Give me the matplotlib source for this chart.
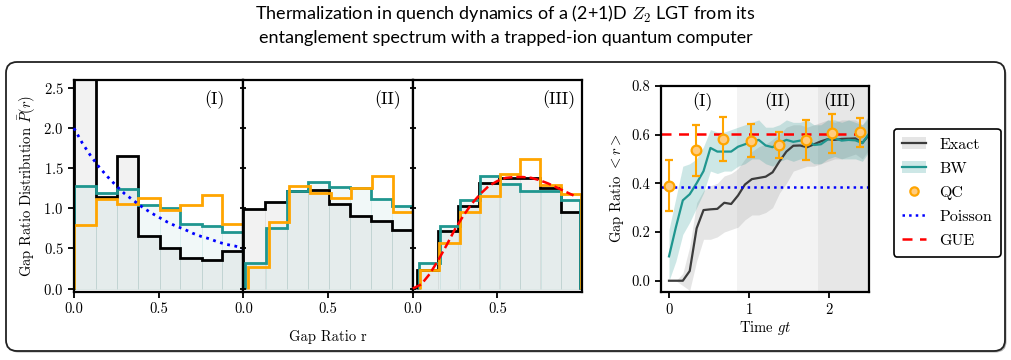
import numpy as np
import matplotlib
matplotlib.use('Agg')
import matplotlib.pyplot as plt
from matplotlib.patches import FancyBboxPatch, Patch
from matplotlib.lines import Line2D

plt.rcParams['font.family'] = 'serif'
plt.rcParams['font.serif'] = ['cmr10', 'DejaVu Serif']
plt.rcParams['mathtext.fontset'] = 'cm'
plt.rcParams['axes.formatter.use_mathtext'] = True
plt.rcParams['axes.linewidth'] = 1.6
plt.rcParams['axes.unicode_minus'] = False

TEAL = '#1f968f'
ORANGE = '#ffa500'

'''
    Histogram data: gap ratio distribution for the three regimes
'''

# regime (I)
exact_edges_1 = [0.0, 0.13, 0.253, 0.377, 0.506, 0.628, 0.753, 0.875, 1.0]
exact_vals_1 = [2.85, 1.14, 1.65, 0.65, 0.51, 0.38, 0.35, 0.47]
bw_edges_1 = [0.0, 0.13, 0.253, 0.377, 0.506, 0.628, 0.753, 0.875, 1.0]
bw_vals_1 = [1.28, 1.19, 1.24, 1.04, 1.00, 0.80, 0.78, 0.71]
qc_edges_1 = [0.0, 0.13, 0.253, 0.377, 0.506, 0.628, 0.753, 0.875, 1.0]
qc_vals_1 = [0.79, 1.11, 1.06, 1.13, 0.98, 1.04, 1.16, 0.80]

# regime (II)
exact_edges_2 = [0.0, 0.129, 0.257, 0.382, 0.507, 0.630, 0.754, 0.879, 1.0]
exact_vals_2 = [0.99, 1.08, 1.22, 1.23, 1.06, 0.90, 0.84, 0.73]
bw_edges_2 = [0.012, 0.133, 0.257, 0.382, 0.507, 0.630, 0.754, 0.879, 1.0]
bw_vals_2 = [0.32, 0.76, 1.21, 1.33, 1.27, 1.25, 1.11, 1.03]
qc_edges_2 = [0.03, 0.149, 0.271, 0.392, 0.515, 0.638, 0.760, 0.885, 1.0]
qc_vals_2 = [0.27, 0.83, 1.28, 1.19, 1.13, 1.25, 1.40, 0.96]

# regime (III)
exact_edges_3 = [0.026, 0.150, 0.266, 0.390, 0.512, 0.636, 0.754, 0.878, 0.99]
exact_vals_3 = [0.23, 0.72, 1.03, 1.32, 1.38, 1.38, 1.25, 0.96]
bw_edges_3 = [0.04, 0.160, 0.282, 0.400, 0.518, 0.636, 0.758, 0.878, 0.99]
bw_vals_3 = [0.32, 0.78, 1.10, 1.40, 1.30, 1.22, 1.21, 1.10]
qc_edges_3 = [0.045, 0.157, 0.278, 0.400, 0.514, 0.632, 0.754, 0.878, 0.996]
qc_vals_3 = [0.23, 0.57, 0.96, 1.15, 1.43, 1.61, 1.29, 1.18]

# reference curves
r_ref = [0.0, 0.05, 0.1, 0.15, 0.2, 0.25, 0.3, 0.35, 0.4, 0.45, 0.5,
         0.55, 0.6, 0.65, 0.7, 0.75, 0.8, 0.85, 0.9, 0.95, 1.0]
poisson_curve = [2.0, 1.81, 1.65, 1.51, 1.39, 1.28, 1.18, 1.10, 1.02, 0.95, 0.89,
                 0.83, 0.78, 0.74, 0.69, 0.65, 0.62, 0.58, 0.55, 0.53, 0.50]
r_gue = r_ref[:-1]
gue_curve = [0.0, 0.05, 0.18, 0.35, 0.54, 0.74, 0.91, 1.06, 1.18, 1.28, 1.34,
             1.38, 1.39, 1.39, 1.38, 1.35, 1.31, 1.26, 1.21, 1.16]

'''
    Time evolution of the mean gap ratio
'''

time = np.linspace(0, 2.5, 30)
exact_r = [0.0, 0.0, 0.0, 0.04, 0.215, 0.29, 0.293, 0.295, 0.32, 0.315,
           0.35, 0.395, 0.417, 0.422, 0.427, 0.445, 0.49, 0.53, 0.554, 0.555,
           0.548, 0.56, 0.572, 0.581, 0.578, 0.582, 0.583, 0.584, 0.565, 0.60]
exact_lo = [0.0, 0.0, -0.02, -0.04, 0.08, 0.17, 0.17, 0.18, 0.20, 0.21,
            0.22, 0.25, 0.27, 0.27, 0.28, 0.30, 0.36, 0.40, 0.45, 0.46,
            0.47, 0.47, 0.48, 0.49, 0.50, 0.50, 0.51, 0.52, 0.50, 0.54]
exact_hi = [0.0, 0.0, 0.03, 0.14, 0.32, 0.37, 0.39, 0.40, 0.43, 0.44,
            0.46, 0.50, 0.53, 0.55, 0.56, 0.58, 0.60, 0.63, 0.64, 0.64,
            0.63, 0.64, 0.65, 0.66, 0.65, 0.66, 0.66, 0.66, 0.64, 0.67]
bw_r = [0.10, 0.22, 0.33, 0.355, 0.40, 0.45, 0.545, 0.53, 0.53, 0.53,
        0.55, 0.56, 0.57, 0.578, 0.555, 0.548, 0.566, 0.578, 0.57, 0.575,
        0.578, 0.557, 0.56, 0.58, 0.585, 0.575, 0.578, 0.576, 0.565, 0.605]
bw_lo = [0.0, 0.08, 0.19, 0.24, 0.30, 0.36, 0.45, 0.44, 0.45, 0.45,
         0.47, 0.48, 0.50, 0.50, 0.48, 0.47, 0.49, 0.50, 0.49, 0.50,
         0.50, 0.48, 0.48, 0.50, 0.51, 0.50, 0.50, 0.50, 0.49, 0.53]
bw_hi = [0.21, 0.34, 0.47, 0.48, 0.50, 0.55, 0.62, 0.61, 0.61, 0.62,
         0.63, 0.64, 0.65, 0.66, 0.63, 0.63, 0.64, 0.66, 0.65, 0.65,
         0.66, 0.64, 0.64, 0.66, 0.66, 0.65, 0.66, 0.65, 0.64, 0.68]

qc_time = [0.0, 0.34, 0.68, 1.02, 1.37, 1.705, 2.04, 2.38]
qc_r = [0.39, 0.535, 0.583, 0.575, 0.557, 0.577, 0.605, 0.609]
qc_err = [0.105, 0.104, 0.09, 0.067, 0.055, 0.083, 0.079, 0.06]

poisson_mean = 0.386
gue_mean = 0.603
regime_bounds = [0.852, 1.863, 2.5]

# 1. Figure and frame
fig = plt.figure(figsize=(10.11, 3.6), dpi=100)

shadow = FancyBboxPatch((0.075, 0.075), 9.99, 2.885, boxstyle='round,pad=0,rounding_size=0.11',
                        transform=fig.dpi_scale_trans, facecolor='#b0b0b0', edgecolor='none',
                        zorder=-3)
frame = FancyBboxPatch((0.06, 0.09), 9.99, 2.89, boxstyle='round,pad=0,rounding_size=0.11',
                       transform=fig.dpi_scale_trans, facecolor='white', edgecolor='#222222',
                       lw=1.3, zorder=-2)
fig.patches.extend([shadow, frame])

fig.text(0.5, 0.99,
         'Thermalization in quench dynamics of a (2+1)D $Z_2$ LGT from its\n'
         'entanglement spectrum with a trapped-ion quantum computer',
         ha='center', va='top', fontsize=13, family='Lato', linespacing=1.4)

# 2. Histogram panels
hist_data = [
    (exact_edges_1, exact_vals_1, bw_edges_1, bw_vals_1, qc_edges_1, qc_vals_1),
    (exact_edges_2, exact_vals_2, bw_edges_2, bw_vals_2, qc_edges_2, qc_vals_2),
    (exact_edges_3, exact_vals_3, bw_edges_3, bw_vals_3, qc_edges_3, qc_vals_3),
]
labels = ['(I)', '(II)', '(III)']
label_x = [0.83, 0.85, 0.865]

x0, w, b, h = 0.0732, 0.1675, 0.1897, 0.588
hist_axes = []
for i, (ee, ev, be, bv, qe, qv) in enumerate(hist_data):
    ax = fig.add_axes([x0 + i * w, b, w, h])
    hist_axes.append(ax)

    ax.bar(ee[:-1], ev, width=np.diff(ee), align='edge', color='#888888', alpha=0.1,
           edgecolor='#999999', lw=0.6)
    ax.bar(be[:-1], bv, width=np.diff(be), align='edge', color=TEAL, alpha=0.06,
           edgecolor=TEAL, lw=0.6)
    ax.stairs(ev, ee, color='black', lw=2.0)
    ax.stairs(bv, be, color=TEAL, lw=2.0)
    ax.stairs(qv, qe, color=ORANGE, lw=2.0)

    ax.set_xlim(0, 1)
    ax.set_ylim(-0.04, 2.6)
    ax.set_xticks([0, 0.5])
    ax.set_xticklabels(['0.0', '0.5'])
    ax.set_yticks([0, 0.5, 1.0, 1.5, 2.0, 2.5])
    ax.tick_params(labelsize=10.5, width=1.3, length=4)
    ax.text(label_x[i], 0.905, labels[i], transform=ax.transAxes, ha='center', va='center',
            fontsize=13)
    if i > 0:
        ax.tick_params(axis='y', labelleft=False, direction='inout', length=5)

hist_axes[0].plot(r_ref, poisson_curve, ':', color='blue', lw=2, clip_on=False, zorder=5)
hist_axes[2].plot(r_gue, gue_curve, '--', color='red', lw=1.8, clip_on=False, zorder=5)
hist_axes[0].set_ylabel(r'Gap Ratio Distribution $\bar{P}(r)$', fontsize=10.5)
hist_axes[1].set_xlabel('Gap Ratio r', fontsize=10.5, labelpad=10)

# 3. Time evolution panel
ax = fig.add_axes([0.6538, b, 0.206, 0.572])
ax.axvspan(regime_bounds[0], regime_bounds[2], color='grey', alpha=0.09, lw=0)
ax.axvspan(regime_bounds[1], regime_bounds[2], color='grey', alpha=0.1, lw=0)

ax.fill_between(time, exact_lo, exact_hi, color='grey', alpha=0.2, lw=0)
ax.fill_between(time, bw_lo, bw_hi, color=TEAL, alpha=0.22, lw=0)
ax.plot(time, exact_r, color='#3c3c3c', lw=1.6)
ax.plot(time, bw_r, color=TEAL, lw=1.6)
ax.axhline(gue_mean, color='red', ls='--', lw=1.8, dashes=(4, 3))
ax.axhline(poisson_mean, color='blue', ls=':', lw=1.8)
ax.errorbar(qc_time, qc_r, yerr=qc_err, fmt='o', color=ORANGE, mfc='#ffcc80', mec=ORANGE,
            ms=7, mew=1.6, capsize=3, elinewidth=1.5, capthick=1.5, zorder=6)

for lab, xt in zip(labels, [0.42, 1.35, 2.13]):
    ax.text(xt, 0.735, lab, ha='center', va='center', fontsize=13)

ax.set_xlim(-0.1, 2.5)
ax.set_ylim(-0.045, 0.8)
ax.set_xticks([0, 1, 2])
ax.set_yticks([0, 0.2, 0.4, 0.6, 0.8])
ax.set_yticklabels(['0.0', '0.2', '0.4', '0.6', '0.8'])
ax.tick_params(labelsize=10.5, width=1.3, length=4)
ax.set_xlabel('Time $gt$', fontsize=10.5, labelpad=1)
ax.set_ylabel('Gap Ratio $< r >$', fontsize=10.5)

handles = [
    (Patch(color='grey', alpha=0.2, lw=0), Line2D([], [], color='#3c3c3c', lw=1.6)),
    (Patch(color=TEAL, alpha=0.22, lw=0), Line2D([], [], color=TEAL, lw=1.6)),
    Line2D([], [], ls='none', marker='o', color=ORANGE, mfc='#ffcc80', ms=6, mew=1.6),
    Line2D([], [], ls=':', color='blue', lw=1.8),
    Line2D([], [], ls='--', color='red', lw=1.8, dashes=(4, 3)),
]
leg = fig.legend(handles, ['Exact', 'BW', 'QC', 'Poisson', 'GUE'], loc='upper left',
                 bbox_to_anchor=(0.876, 0.665), bbox_transform=fig.transFigure,
                 fontsize=11.5, frameon=True, fancybox=True, handlelength=1.5,
                 labelspacing=0.62, borderpad=0.55, handletextpad=0.8)
leg.get_frame().set_edgecolor('black')
leg.get_frame().set_linewidth(1.2)
leg.get_frame().set_alpha(1)

fig.savefig('out.png', dpi=100)
